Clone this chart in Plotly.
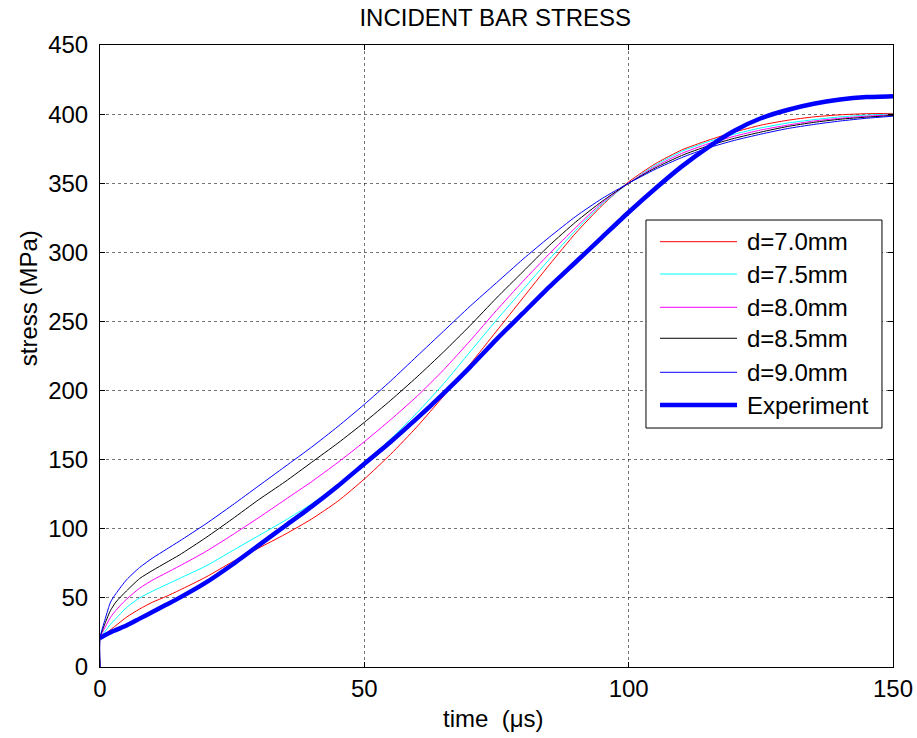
import plotly.graph_objects as go

# Time samples (microseconds) for the simulated curves; the repeated 0 gives the initial jump
T_SIM = [0, 0, 1, 2, 3, 5, 7.5, 10, 12.5, 15, 20, 25, 30, 35, 40, 45, 50, 55, 60, 65,
         70, 75, 80, 85, 90, 95, 100, 105, 110, 115, 120, 125, 130, 135, 140, 145, 150]

# Simulated incident bar stress (MPa) for each striker diameter
D70 = [0, 21, 24, 27, 30, 36, 42, 47, 51, 55.5, 65, 76, 86, 96, 107, 120, 136, 154, 174, 196,
       219, 243, 267, 291, 314, 334, 351, 364, 374, 381, 387, 392, 395.5, 398, 399.5, 400.3, 400.5]
D75 = [0, 21, 26, 31, 35, 43, 50, 55, 59.5, 64, 73, 84, 95, 106, 118, 132, 148, 165, 184, 205,
       228, 251, 273, 295, 316, 335, 350, 363, 373, 380, 385.5, 390, 393.5, 396, 398, 399.3, 400]
D80 = [0, 21, 29, 36, 41, 49, 57, 63, 68, 73, 83.5, 95.5, 108, 121, 134, 148, 163, 179, 196, 215,
       236, 258, 279, 299, 318, 336, 350, 362, 371.5, 378.5, 384, 388.5, 392, 395, 397, 398.5, 399.5]
D85 = [0, 21, 32, 41, 47, 55, 64, 70, 75.5, 81, 93.5, 107, 121, 134, 148, 162, 177, 193, 210, 228,
       247, 267, 286, 305, 322, 337, 350, 361, 370, 377, 382.5, 387, 391, 394, 396.3, 397.8, 399]
D90 = [0, 21, 35, 47, 53, 63, 72, 79, 85, 91, 103.5, 117, 131, 145, 159, 174, 190, 207, 225, 243,
       261, 278, 295, 311, 326, 339, 350, 360, 368.5, 375.5, 381, 385.5, 389.5, 392.5, 395, 397, 398.5]

# Measured incident bar stress
T_EXP = [0, 2.5, 5, 7.5, 10, 12.5, 15, 20, 25, 30, 35, 40, 45, 50, 55, 60, 65, 70, 75, 80,
         85, 90, 95, 100, 105, 110, 115, 120, 125, 130, 135, 140, 145, 150]
EXP = [21, 26, 30, 35, 40, 45, 50, 61, 74, 88, 102, 116, 131, 147, 163, 180, 198, 217, 237, 256,
       275, 293, 311, 329, 346, 362, 376, 388, 397, 403, 407.5, 410.5, 412.3, 413]

NAMES = ["d=7.0mm", "d=7.5mm", "d=8.0mm", "d=8.5mm", "d=9.0mm", "Experiment"]
COLORS = ["#ff0000", "#00ffff", "#ff00ff", "#000000", "#0000ff", "#0000ff"]
WIDTHS = [1, 1, 1, 1, 1, 4.5]

X_TICKS = [0, 50, 100, 150]
Y_TICKS = [0, 50, 100, 150, 200, 250, 300, 350, 400, 450]

FONT = "Liberation Sans, Arial, sans-serif"

fig = go.Figure()
series = [(T_SIM, D70), (T_SIM, D75), (T_SIM, D80), (T_SIM, D85), (T_SIM, D90), (T_EXP, EXP)]
for (tx, ty), name, color, width in zip(series, NAMES, COLORS, WIDTHS):
    fig.add_trace(go.Scatter(
        x=tx, y=ty, name=name, mode="lines",
        line=dict(color=color, width=width, shape="spline", smoothing=0.6),
        showlegend=False,
    ))

# Boxed legend in the right half of the axes
leg_x0, leg_x1 = 0.6885, 0.9861
leg_top, leg_bot = 0.7186, 0.3842
fig.add_shape(type="rect", xref="paper", yref="paper",
              x0=leg_x0, x1=leg_x1, y0=leg_bot, y1=leg_top,
              line=dict(color="black", width=1), fillcolor="white", layer="above")
row_y = [0.6838, 0.6318, 0.5783, 0.5285, 0.4738, 0.4212]
for yy, name, color, width in zip(row_y, NAMES, COLORS, WIDTHS):
    fig.add_shape(type="line", xref="paper", yref="paper",
                  x0=0.7062, x1=0.8033, y0=yy, y1=yy,
                  line=dict(color=color, width=width), layer="above")
    fig.add_annotation(xref="paper", yref="paper", x=0.8134, y=yy,
                       text=name, showarrow=False, xanchor="left", yanchor="middle",
                       font=dict(family=FONT, size=24, color="black"))

# Axis titles
fig.add_annotation(xref="paper", yref="paper", x=0.4968, y=-0.082,
                   text="time \u00a0(\u03bcs)", showarrow=False,
                   xanchor="center", yanchor="middle",
                   font=dict(family=FONT, size=24, color="black"))
fig.add_annotation(xref="paper", yref="paper", x=-0.0908, y=0.593,
                   text="stress (MPa)", showarrow=False, textangle=-90,
                   xanchor="center", yanchor="middle",
                   font=dict(family=FONT, size=24, color="black"))

axis_common = dict(
    showline=True, linecolor="black", linewidth=1, mirror="ticks",
    ticks="inside", ticklen=5, tickcolor="black",
    showgrid=True, gridcolor="rgba(0,0,0,0.55)", griddash="dot", gridwidth=1,
    zeroline=False, automargin=False,
    tickfont=dict(family=FONT, size=24, color="black"),
)

fig.update_layout(
    width=917, height=738,
    margin=dict(l=100, r=24, t=45, b=71),
    paper_bgcolor="white", plot_bgcolor="white",
    title=dict(text="INCIDENT BAR STRESS", x=0.54, xanchor="center",
               y=0.9756, yanchor="middle",
               font=dict(family=FONT, size=24, color="black")),
    xaxis=dict(range=[0, 150], tickvals=X_TICKS, **axis_common),
    yaxis=dict(range=[0, 450], tickvals=Y_TICKS, ticklabelstandoff=6, **axis_common),
)

fig.write_html("out.html")
